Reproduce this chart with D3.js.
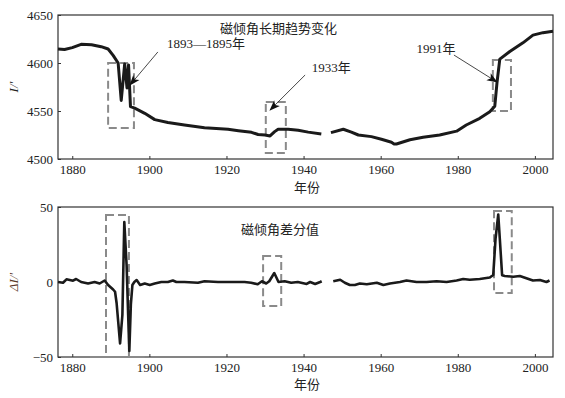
<!DOCTYPE html>
<html><head><meta charset="utf-8">
<script src="https://cdn.jsdelivr.net/npm/d3@7/dist/d3.min.js"></script>
<style>
body{margin:0;background:#fff;}
text{font-family:"Liberation Serif","Times New Roman","Noto Sans CJK SC",serif;}
.cjk{font-family:"Noto Sans CJK SC",sans-serif;}
</style></head>
<body><svg id="c" width="565" height="398"></svg>
<script>
// ---- data ----
const xTicks = [1880, 1900, 1920, 1940, 1960, 1980, 2000];
const topTicks = [4500, 4550, 4600, 4650];
const botTicks = [-50, 0, 50];

const topYears = [1876.3,1878,1880,1882.3,1885,1887.5,1889.3,1890.6,1891.9,1892.7,1893.6,1894.2,1894.6,1895.1,1896.2,1898.8,1901.4,1904.8,1909.1,1914.3,1920.4,1923.1,1926.5,1928.2,1930,1931.3,1932.5,1933.4,1936,1938.6,1941.2,1944.6,1946,1947.1,1950.3,1952.4,1954.2,1957.6,1960.2,1962.8,1963.5,1964.1,1967.6,1971,1975.3,1979.7,1982.2,1985.7,1988.3,1989.6,1990.2,1990.9,1993.5,1996.9,1999.5,2002.1,2004.7];
const topValues = [4614.5,4614,4616,4619.5,4619,4617,4614.6,4608,4600,4561,4599,4574,4598,4554.5,4553,4547.6,4541,4538,4535.4,4532.6,4531,4529.5,4527.8,4525.5,4525,4524,4528.5,4531,4531,4530,4528,4526,null,4527.5,4531,4528,4525,4523.3,4520.5,4517.5,4515.5,4515.6,4520,4522.6,4525,4529,4535.4,4542.4,4549.3,4555,4580.5,4604,4612,4621,4629,4631.6,4633];

const diffYears = [1876.3,1877.6,1878.5,1880.2,1881,1882.3,1884.1,1885.8,1887.1,1888.4,1889.3,1890.6,1891.1,1891.5,1892.4,1893,1893.5,1894.1,1894.5,1894.8,1895.2,1895.6,1896.1,1896.7,1897.6,1898.8,1900.1,1901.4,1903.1,1904.8,1906.1,1907,1909.1,1912.6,1914.3,1917.8,1921.2,1924.7,1926.4,1928.1,1929.2,1930.3,1931.1,1932.4,1933.5,1935.1,1936.8,1938.5,1940.8,1941.7,1943,1944.3,1944.7,1946,1947.7,1949.5,1950.7,1952,1953.3,1954.6,1956.4,1959,1960.7,1962.4,1965,1966.7,1969.3,1971.9,1974.5,1977.1,1979.7,1981.4,1983.1,1985.7,1988.3,1989.2,1989.8,1990.5,1990.9,1991.5,1992.2,1994.4,1996.1,1997.8,1999.5,2001.3,2003,2003.8];
const diffValues = [0,-0.5,1.8,0.9,2,0,-1,0,-1,1,-2,-5,-6.5,-14,-41,-22,40,11,-22,-46,-15,-2,0,1.3,-2,-1,-2,-1,0,0,1,0,0,-0.5,0.5,0,0,0,-0.5,-1.5,0.5,-1,0.5,6,0,0.5,-0.5,0,-1.3,0,-1.3,0,0.5,null,0.5,1.5,-0.5,-2,-2,-1,-1.5,-0.5,-2,-1,0,1,0,0,0.5,0,1,2,1.5,2,3,4.7,29,45,29,4.5,4,3.5,4,2.5,1,1.3,0,1];

// annotation boxes [x0,x1,y0,y1] in data units
const topBoxes = [[1889.3,1896.0,4532.3,4600],[1930.2,1935.4,4506.3,4559.4],[1989.1,1993.8,4550,4603]];
const botBoxes = [[1888.75,1894.7,-50,44.7],[1929.5,1934.2,-16,17.3],[1989.4,1994,-7.3,47.3]];
// annotation arrows: label, text pos, arrow start, arrow tip (data units)
const topLabels = ["1893—1895年","1933年","1991年"];
const topLabelPos = [[1904.6,4615.6],[1942.1,4590.6],[1969.3,4610.4]];
const arrowFrom = [[1902.2,4611.5],[1940.4,4587.5],[1979.0,4608.3]];
const arrowTo = [[1894.97,4577],[1931.3,4551],[1990.15,4580.2]];

// ---- drawing ----
const svg = d3.select("#c");
svg.append("rect").attr("width",565).attr("height",398).attr("fill","#fff");
const defs = svg.append("defs");
defs.append("marker").attr("id","ah").attr("viewBox","0 -5 12 10")
  .attr("refX",11).attr("refY",0).attr("markerWidth",13).attr("markerHeight",9)
  .attr("markerUnits","userSpaceOnUse").attr("orient","auto")
  .append("path").attr("d","M0,-4.5L12,0L0,4.5L3,0Z").attr("fill","#111");

const L = 58, R = 553;
const x = d3.scaleLinear().domain([1876.3, 2004.7]).range([L, R]);
const yT = d3.scaleLinear().domain([4500, 4650]).range([159, 15]);
const yB = d3.scaleLinear().domain([-50, 50]).range([357, 207]);

function styleAxis(s){
  s.select(".domain").remove();
  s.selectAll("text").attr("font-size",13).attr("fill","#222").attr("font-family","Liberation Serif, serif");
  s.selectAll("line").attr("stroke","#333");
}
function panel(y, yt, top, bottom) {
  const g = svg.append("g");
  g.append("g").attr("transform",`translate(0,${bottom})`)
    .call(d3.axisBottom(x).tickValues(xTicks).tickSize(-3).tickPadding(6).tickFormat(d3.format("d")))
    .call(styleAxis);
  g.append("g").attr("transform",`translate(${L},0)`)
    .call(d3.axisLeft(y).tickValues(yt).tickSize(-3).tickPadding(5).tickFormat(d3.format("d")))
    .call(styleAxis);
  g.append("rect").attr("x",L).attr("y",top).attr("width",R-L).attr("height",bottom-top)
    .attr("fill","none").attr("stroke","#333").attr("stroke-width",1.2);
  return g;
}
const gT = panel(yT, topTicks, 15, 159);
const gB = panel(yB, botTicks, 207, 357);

// dashed boxes
function boxes(g, y, arr){
  g.selectAll(".bx").data(arr).join("rect").attr("class","bx")
    .attr("x",d=>x(d[0])).attr("y",d=>y(d[3]))
    .attr("width",d=>x(d[1])-x(d[0])).attr("height",d=>y(d[2])-y(d[3]))
    .attr("fill","none").attr("stroke","#8a8a8a").attr("stroke-width",2)
    .attr("stroke-dasharray","8,4");
}
boxes(gT, yT, topBoxes);
boxes(gB, yB, botBoxes);
gB.append("line").attr("x1",x(1884.6)).attr("x2",x(1898.8)).attr("y1",yB(-50)).attr("y2",yB(-50))
  .attr("stroke","#8a8a8a").attr("stroke-width",2);

// lines
const lineT = d3.line().defined(d=>d[1]!==null).x(d=>x(d[0])).y(d=>yT(d[1]));
const lineB = d3.line().defined(d=>d[1]!==null).x(d=>x(d[0])).y(d=>yB(d[1]));
gT.append("path").datum(topYears.map((v,i)=>[v,topValues[i]])).attr("d",lineT)
  .attr("fill","none").attr("stroke","#1a1a1a").attr("stroke-width",3).attr("stroke-linejoin","round");
gB.append("path").datum(diffYears.map((v,i)=>[v,diffValues[i]])).attr("d",lineB)
  .attr("fill","none").attr("stroke","#1a1a1a").attr("stroke-width",2.6).attr("stroke-linejoin","round");

// arrows + labels
topLabels.forEach((t,i)=>{
  gT.append("line").attr("x1",x(arrowFrom[i][0])).attr("y1",yT(arrowFrom[i][1]))
    .attr("x2",x(arrowTo[i][0])).attr("y2",yT(arrowTo[i][1]))
    .attr("stroke","#333").attr("stroke-width",0.9).attr("marker-end","url(#ah)");
  gT.append("text").attr("x",x(topLabelPos[i][0])).attr("y",yT(topLabelPos[i][1]))
    .attr("font-size",13).attr("fill","#222").text(t);
});

// titles and axis labels
svg.append("text").attr("class","cjk").attr("x",220).attr("y",33).attr("font-size",13).attr("fill","#222").text("磁倾角长期趋势变化");
svg.append("text").attr("class","cjk").attr("x",241).attr("y",234).attr("font-size",13).attr("fill","#222").text("磁倾角差分值");
svg.append("text").attr("class","cjk").attr("x",307).attr("y",192).attr("text-anchor","middle").attr("font-size",13).attr("fill","#222").text("年份");
svg.append("text").attr("class","cjk").attr("x",307).attr("y",389).attr("text-anchor","middle").attr("font-size",13).attr("fill","#222").text("年份");
svg.append("text").attr("transform","translate(18,87) rotate(-90)").attr("text-anchor","middle")
  .attr("font-size",13).attr("font-style","italic").attr("fill","#222").text("I/′");
svg.append("text").attr("transform","translate(18,282) rotate(-90)").attr("text-anchor","middle")
  .attr("font-size",13).attr("font-style","italic").attr("fill","#5a3a2a").text("ΔI/′");
</script></body></html>
